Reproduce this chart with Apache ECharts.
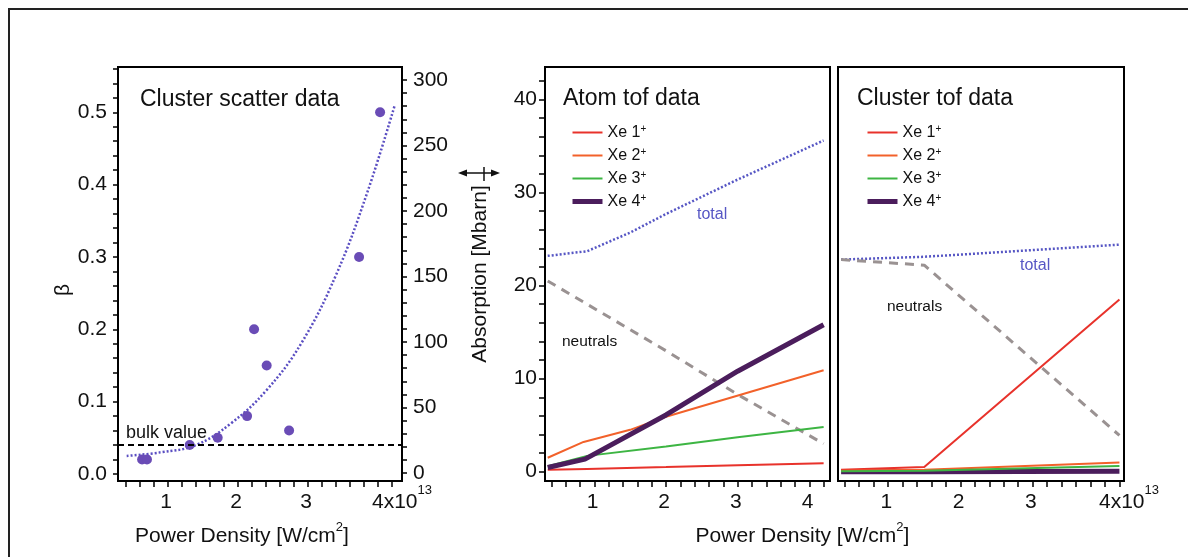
<!DOCTYPE html>
<html><head><meta charset="utf-8">
<script src="https://cdn.jsdelivr.net/npm/echarts@6/dist/echarts.min.js"></script>
<style>html,body{margin:0;padding:0;background:#fff}#c{width:1188px;height:557px}</style>
</head><body><div id="c"></div>
<script>
// ---------------- data ----------------
const scatterPower = [0.63, 0.70, 1.31, 1.71, 2.13, 2.23, 2.41, 2.73, 3.73, 4.03];
const scatterBeta  = [0.02, 0.02, 0.04, 0.05, 0.08, 0.20, 0.15, 0.06, 0.30, 0.50];
const fitPower = [0.41, 0.9, 1.4, 1.9, 2.4, 2.9, 3.4, 3.85, 4.24];
const fitBeta  = [0.025, 0.03, 0.04, 0.07, 0.115, 0.18, 0.275, 0.39, 0.51];
const bulkBeta = 0.0447;

const atomXe1 = [[0.35, 0.2], [0.9, 0.3], [2, 0.5], [3, 0.7], [4.2, 0.9]];
const atomXe2 = [[0.35, 1.5], [0.85, 3.2], [1.5, 4.5], [2, 5.9], [4.2, 10.9]];
const atomXe3 = [[0.35, 0.6], [0.9, 1.7], [2, 2.7], [3, 3.7], [4.2, 4.8]];
const atomXe4 = [[0.35, 0.45], [0.87, 1.35], [2, 6.1], [3, 10.8], [4.2, 15.8]];
const atomTotal = [[0.35, 23.2], [0.9, 23.7], [1.5, 25.7], [2, 27.7], [3, 31.4], [4.2, 35.6]];
const atomNeutrals = [[0.35, 20.5], [0.9, 18.0], [2, 13.0], [3, 8.3], [4.2, 3.0]];

const clusterXe1 = [[0.35, 0.2], [1.5, 0.5], [4.2, 18.5]];
const clusterXe2 = [[0.35, 0.1], [1.5, 0.2], [4.2, 1.0]];
const clusterXe3 = [[0.35, 0.05], [1.5, 0.1], [4.2, 0.6]];
const clusterXe4 = [[0.35, 0.0], [1.5, 0.0], [4.2, 0.05]];
const clusterTotal = [[0.35, 22.8], [1.5, 23.1], [4.2, 24.4]];
const clusterNeutrals = [[0.35, 22.8], [1.5, 22.2], [4.2, 3.9]];

const ionNames = ['Xe 1+', 'Xe 2+', 'Xe 3+', 'Xe 4+'];
const powerTicks = [1, 2, 3, 4];
const betaTicks = [0, 0.1, 0.2, 0.3, 0.4, 0.5];
const absorptionTicks = [0, 50, 100, 150, 200, 250, 300];
const tofTicks = [0, 10, 20, 30, 40];

// ---------------- helpers ----------------
function seq(a, b, step) { const r = []; for (let v = a; v <= b + 1e-9; v += step) r.push(Math.round(v * 1000) / 1000); return r; }
const minorPower = seq(0.4, 4.2, 0.2);
const minorBeta = seq(0, 0.56, 0.02);
const minorAbs = seq(0, 300, 10);
const minorTof = seq(0, 42, 2);

const FONT = 'Liberation Sans, Arial, Helvetica, sans-serif';
const C = {
  xe1: '#e8322b', xe2: '#f2612a', xe3: '#3db543', xe4: '#4b1d5c',
  total: '#5656c4', neutrals: '#9a9292', scatter: '#6a4cb6', fit: '#5a4ec2'
};
const zip = (xs, ys) => xs.map((x, i) => [x, ys[i]]);

const labelRich = {
  n: { fontSize: 21, fontFamily: FONT, color: '#111', lineHeight: 29, verticalAlign: 'bottom' },
  s: { fontSize: 13, fontFamily: FONT, color: '#111', lineHeight: 29, verticalAlign: 'top' },
  pad: { width: 48, fontSize: 21, lineHeight: 29 }
};
function sciLabel(v) { return v === 4 ? '{pad| }{n|4x10}{s|13}' : '{n|' + v + '}{s| }'; }
function plainLabel(v) { return '{n|' + v + '}{s| }'; }

const nameRich = {
  a: { fontSize: 21, fontFamily: FONT, color: '#111', lineHeight: 26, verticalAlign: 'bottom' },
  s: { fontSize: 13, fontFamily: FONT, color: '#111', lineHeight: 26, verticalAlign: 'top' }
};
const powerName = '{a|Power Density [W/cm}{s|2}{a|]}';

const axisLineStyle = { show: true, onZero: false, lineStyle: { color: '#000', width: 2 } };
function xAxisDef(grid, min, max, fmt, name, namePad) {
  return {
    gridIndex: grid, type: 'value', min: min, max: max,
    axisLine: axisLineStyle,
    axisTick: { show: true, customValues: minorPower, length: 6, lineStyle: { color: '#000', width: 1.5 } },
    axisLabel: { show: true, customValues: powerTicks, formatter: fmt, rich: labelRich, margin: 3 },
    splitLine: { show: false },
    name: name, nameLocation: 'middle', nameGap: 40,
    nameTextStyle: { rich: nameRich, padding: namePad }
  };
}
function yTickLabel(size) { return { fontSize: size, fontFamily: FONT, color: '#111' }; }

const legendBase = {
  orient: 'vertical', itemWidth: 30, itemHeight: 14, itemGap: 6,
  data: ionNames.map((n, i) => ({ name: n, lineStyle: { width: i === 3 ? 5 : 2 } })),
  selectedMode: false,
  itemStyle: { opacity: 0 },
  formatter: n => '{a|' + n.replace('+', '') + '}{s|+}',
  textStyle: {
    rich: {
      a: { fontSize: 16, fontFamily: FONT, color: '#111', lineHeight: 17, verticalAlign: 'bottom' },
      s: { fontSize: 10, fontFamily: FONT, color: '#111', lineHeight: 17, verticalAlign: 'top' }
    }
  }
};

function lineSeries(name, data, xi, yi, color, width, type, z) {
  return {
    name: name, type: 'line', xAxisIndex: xi, yAxisIndex: yi, data: data,
    symbol: 'none', showSymbol: false, z: z || 3,
    lineStyle: { color: color, width: width, type: type || 'solid' },
    itemStyle: { color: color }
  };
}

const chart = echarts.init(document.getElementById('c'), null, { renderer: 'canvas' });
const option = {
  animation: false,
  backgroundColor: '#fff',
  textStyle: { fontFamily: FONT },
  title: [
    { text: 'Cluster scatter data', left: 140, top: 88, padding: 0, textStyle: { fontSize: 23, fontWeight: 'normal', color: '#111', fontFamily: FONT } },
    { text: 'Atom tof data', left: 563, top: 87, padding: 0, textStyle: { fontSize: 23, fontWeight: 'normal', color: '#111', fontFamily: FONT } },
    { text: 'Cluster tof data', left: 857, top: 87, padding: 0, textStyle: { fontSize: 23, fontWeight: 'normal', color: '#111', fontFamily: FONT } }
  ],
  legend: [
    Object.assign({}, legendBase, { left: 565, top: 119 }),
    Object.assign({}, legendBase, { left: 860, top: 119 })
  ],
  grid: [
    { left: 118, top: 67, width: 284, height: 414, show: true, borderColor: '#000', borderWidth: 2 },
    { left: 545, top: 67, width: 285, height: 414, show: true, borderColor: '#000', borderWidth: 2 },
    { left: 838, top: 67, width: 286, height: 414, show: true, borderColor: '#000', borderWidth: 2 }
  ],
  xAxis: [
    xAxisDef(0, 0.286, 4.343, sciLabel, powerName, [0, 36, 0, 0]),
    xAxisDef(1, 0.312, 4.289, plainLabel, powerName, [0, 0, 0, 230]),
    xAxisDef(2, 0.307, 4.263, sciLabel, '', 0)
  ],
  yAxis: [
    {
      gridIndex: 0, type: 'value', position: 'left', min: -0.0097, max: 0.5626,
      axisLine: axisLineStyle,
      axisTick: { show: true, customValues: minorBeta, length: 5, lineStyle: { color: '#000', width: 1.5 } },
      axisLabel: Object.assign(yTickLabel(21), { customValues: betaTicks, formatter: v => v.toFixed(1), margin: 11 }),
      splitLine: { show: false },
      name: 'β', nameLocation: 'middle', nameGap: 38,
      nameTextStyle: { fontSize: 21, fontFamily: FONT, color: '#111', padding: [0, 32, 0, 0] }
    },
    {
      gridIndex: 0, type: 'value', position: 'right', min: -6.1, max: 309.9,
      axisLine: axisLineStyle,
      axisTick: { show: true, customValues: minorAbs, length: 5, lineStyle: { color: '#000', width: 1.5 } },
      axisLabel: Object.assign(yTickLabel(21), { customValues: absorptionTicks, margin: 11 }),
      splitLine: { show: false },
      name: 'Absorption [Mbarn]', nameLocation: 'middle', nameGap: 68,
      nameTextStyle: { fontSize: 21, fontFamily: FONT, color: '#111' }
    },
    {
      gridIndex: 1, type: 'value', min: -1, max: 43.5,
      axisLine: axisLineStyle,
      axisTick: { show: true, customValues: minorTof, length: 6, lineStyle: { color: '#000', width: 1.5 } },
      axisLabel: Object.assign(yTickLabel(21), { customValues: tofTicks, margin: 8 }),
      splitLine: { show: false }
    },
    {
      gridIndex: 2, type: 'value', min: -1, max: 43.5,
      axisLine: axisLineStyle, axisTick: { show: false }, axisLabel: { show: false },
      splitLine: { show: false }
    }
  ],
  series: [
    {
      name: 'fit', type: 'line', xAxisIndex: 0, yAxisIndex: 0, data: zip(fitPower, fitBeta),
      smooth: 0.4, symbol: 'none', lineStyle: { color: C.fit, width: 2.5, type: [2, 2] }, z: 2
    },
    {
      name: 'β data', type: 'scatter', xAxisIndex: 0, yAxisIndex: 0, data: zip(scatterPower, scatterBeta),
      symbolSize: 10, itemStyle: { color: C.scatter, opacity: 1 }, z: 4,
      markLine: {
        silent: true, symbol: 'none', animation: false,
        lineStyle: { color: '#000', width: 2, type: [6, 4] },
        label: { show: true, position: 'insideStartTop', formatter: 'bulk value', fontSize: 18, fontFamily: FONT, color: '#111', distance: [8, 3] },
        data: [{ yAxis: bulkBeta }]
      }
    },
    lineSeries('total', atomTotal, 1, 2, C.total, 2.5, [2, 2]),
    lineSeries('neutrals', atomNeutrals, 1, 2, C.neutrals, 3, [9, 7]),
    lineSeries(ionNames[0], atomXe1, 1, 2, C.xe1, 2),
    lineSeries(ionNames[1], atomXe2, 1, 2, C.xe2, 2),
    lineSeries(ionNames[2], atomXe3, 1, 2, C.xe3, 2),
    lineSeries(ionNames[3], atomXe4, 1, 2, C.xe4, 5, 'solid', 5),
    lineSeries('total', clusterTotal, 2, 3, C.total, 2.5, [2, 2]),
    lineSeries('neutrals', clusterNeutrals, 2, 3, C.neutrals, 3, [9, 7]),
    lineSeries(ionNames[3], clusterXe4, 2, 3, C.xe4, 5),
    lineSeries(ionNames[0], clusterXe1, 2, 3, C.xe1, 2),
    lineSeries(ionNames[1], clusterXe2, 2, 3, C.xe2, 2),
    lineSeries(ionNames[2], clusterXe3, 2, 3, C.xe3, 2)
  ],
  graphic: [
    { type: 'rect', silent: true, shape: { x: 9, y: 9, width: 1300, height: 700 }, style: { fill: 'none', stroke: '#222', lineWidth: 2 } },
    // double arrow between left and middle panels
    { type: 'line', silent: true, shape: { x1: 462, y1: 173, x2: 496, y2: 173 }, style: { stroke: '#111', lineWidth: 1.5 } },
    { type: 'polygon', silent: true, shape: { points: [[458, 173], [467, 169.5], [467, 176.5]] }, style: { fill: '#111' } },
    { type: 'polygon', silent: true, shape: { points: [[500, 173], [491, 169.5], [491, 176.5]] }, style: { fill: '#111' } },
    { type: 'line', silent: true, shape: { x1: 484, y1: 167, x2: 484, y2: 181 }, style: { stroke: '#111', lineWidth: 1.5 } },
    // curve labels
    { type: 'text', silent: true, x: 697, y: 215, style: { text: 'total', fontSize: 16, fontFamily: FONT, fill: C.total, verticalAlign: 'middle' } },
    { type: 'text', silent: true, x: 562, y: 342, style: { text: 'neutrals', fontSize: 15.5, fontFamily: FONT, fill: '#111', verticalAlign: 'middle' } },
    { type: 'text', silent: true, x: 1020, y: 266, style: { text: 'total', fontSize: 16, fontFamily: FONT, fill: C.total, verticalAlign: 'middle' } },
    { type: 'text', silent: true, x: 887, y: 307, style: { text: 'neutrals', fontSize: 15.5, fontFamily: FONT, fill: '#111', verticalAlign: 'middle' } }
  ]
};
chart.setOption(option);
</script>
</body></html>
